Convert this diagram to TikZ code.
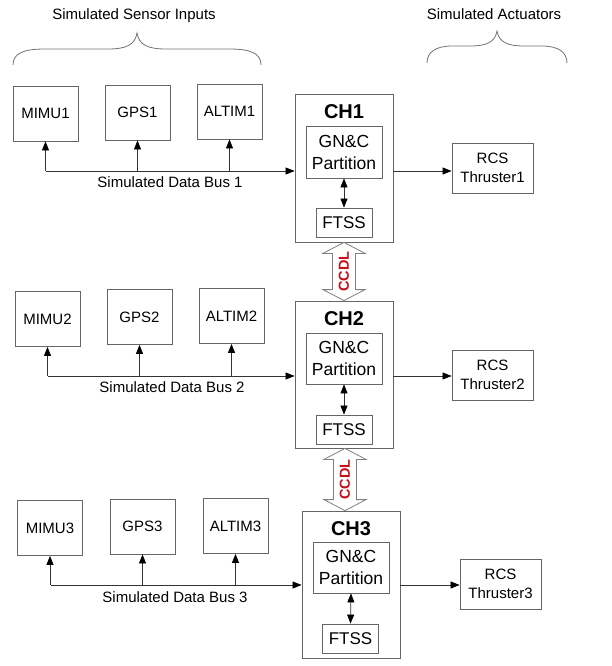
\documentclass[tikz,border=0pt]{standalone}
\usepackage{fontspec}
\setmainfont{Liberation Sans}
\usetikzlibrary{arrows.meta,calc}
\definecolor{ccdlred}{HTML}{C8101A}
\begin{document}
\begin{tikzpicture}[x=1pt,y=-1pt,
  box/.style={draw=black!60, line width=0.8pt, fill=white, align=center, inner sep=0pt,
    font=\fontsize{15}{19}\selectfont, text=black},
  sensor/.style={box, minimum width=65pt, minimum height=55pt},
  chbox/.style={box, minimum width=98pt, minimum height=147pt},
  gncbox/.style={box, minimum width=76pt, minimum height=52pt, font=\fontsize{17.5}{22}\selectfont},
  ftssbox/.style={box, minimum width=56pt, minimum height=29pt, font=\fontsize{17}{20}\selectfont},
  rcsbox/.style={box, minimum width=81pt, minimum height=50pt},
  chlabel/.style={font=\bfseries\fontsize{20}{24}\selectfont, inner sep=0pt},
  lbl/.style={font=\fontsize{15}{18}\selectfont, inner sep=0pt, text=black},
  arr/.style={draw=black!80, line width=0.7pt, -{Triangle[length=9pt,width=7pt,color=black]}},
  darr/.style={draw=black!80, line width=0.7pt, {Triangle[length=9pt,width=7pt,color=black]}-{Triangle[length=9pt,width=7pt,color=black]}},
  brace/.style={draw=black!55, line width=0.8pt},
  ccdl/.style={draw=black!50, line width=0.8pt, fill=white, line join=miter},
  ccdltext/.style={font=\bfseries\fontsize{14.5}{16}\selectfont, text=ccdlred, inner sep=0pt}
]
\useasboundingbox (0,0) rectangle (612,666);

% headers
\node[lbl] (hsens) at (134,16) {Simulated Sensor Inputs};
\node[lbl] (hact) at (494,14) {Simulated Actuators};
\draw[brace] (13,65) .. controls (13,53) and (24,49) .. (45,49) -- (108,49)
  .. controls (126,49) and (135,45) .. (137,33)
  .. controls (139,45) and (148,49) .. (166,49) -- (229,49)
  .. controls (250,49) and (261,53) .. (261,65);
\draw[brace] (427,63) .. controls (427,52) and (436,46) .. (452,46) -- (470,46)
  .. controls (487,46) and (495,42) .. (497,31)
  .. controls (499,42) and (507,46) .. (524,46) -- (542,46)
  .. controls (558,46) and (567,52) .. (567,63);

% ---------- Row 1 ----------
\node[sensor] (mimu1) at (45.5,113.5) {MIMU1};
\node[sensor] (gps1) at (137.5,112.5) {GPS1};
\node[sensor] (altim1) at (229.5,111.5) {ALTIM1};
\node[chbox, minimum height=148pt] (ch1) at (344,168) {};
\node[chlabel] (ch1l) at (344,112) {CH1};
\node[gncbox] (gnc1) at (344,152) {GN\&C\\Partition};
\node[ftssbox] (ftss1) at (344,222.5) {FTSS};
\node[rcsbox] (rcs1) at (492.5,168) {RCS\\Thruster1};
\coordinate (bus1) at (46,171);
\draw[arr] (bus1) -- (bus1 -| ch1.west);
\draw[arr] (mimu1.south |- bus1) -- (mimu1.south);
\draw[arr] (gps1.south |- bus1) -- (gps1.south);
\draw[arr] (altim1.south |- bus1) -- (altim1.south);
\draw[arr] (ch1.east |- bus1) -- (rcs1.west |- bus1);
\draw[darr] (gnc1.south) -- (ftss1.north);
\node[lbl] (bl1) at (170,182) {Simulated Data Bus 1};

% ---------- Row 2 ----------
\node[sensor] (mimu2) at (47.5,319) {MIMU2};
\node[sensor] (gps2) at (139.5,317) {GPS2};
\node[sensor] (altim2) at (231.5,316) {ALTIM2};
\node[chbox] (ch2) at (344,374.5) {};
\node[chlabel] (ch2l) at (344,319) {CH2};
\node[gncbox, minimum height=51pt] (gnc2) at (344,358.5) {GN\&C\\Partition};
\node[ftssbox] (ftss2) at (344,429.5) {FTSS};
\node[rcsbox] (rcs2) at (492.5,375) {RCS\\Thruster2};
\coordinate (bus2) at (48,376);
\draw[arr] (bus2) -- (bus2 -| ch2.west);
\draw[arr] (mimu2.south |- bus2) -- (mimu2.south);
\draw[arr] (gps2.south |- bus2) -- (gps2.south);
\draw[arr] (altim2.south |- bus2) -- (altim2.south);
\draw[arr] (ch2.east |- bus2) -- (rcs2.west |- bus2);
\draw[darr] (gnc2.south) -- (ftss2.north);
\node[lbl] (bl2) at (172,387) {Simulated Data Bus 2};

% ---------- Row 3 ----------
\node[sensor] (mimu3) at (50,528) {MIMU3};
\node[sensor] (gps3) at (142.5,526.5) {GPS3};
\node[sensor] (altim3) at (235.5,526) {ALTIM3};
\node[chbox] (ch3) at (351,584.5) {};
\node[chlabel] (ch3l) at (351,529) {CH3};
\node[gncbox, minimum height=51pt] (gnc3) at (351,567.5) {GN\&C\\Partition};
\node[ftssbox] (ftss3) at (350.5,638.5) {FTSS};
\node[rcsbox] (rcs3) at (500.5,584) {RCS\\Thruster3};
\coordinate (bus3) at (51,585);
\draw[arr] (bus3) -- (bus3 -| ch3.west);
\draw[arr] (mimu3.south |- bus3) -- (mimu3.south);
\draw[arr] (gps3.south |- bus3) -- (gps3.south);
\draw[arr] (altim3.south |- bus3) -- (altim3.south);
\draw[arr] (ch3.east |- bus3) -- (rcs3.west |- bus3);
\draw[darr] (gnc3.south) -- (ftss3.north);
\node[lbl] (bl3) at (175,597) {Simulated Data Bus 3};

% ---------- CCDL links ----------
\coordinate (c1t) at (ch1.south);
\coordinate (c1b) at (ch1.south |- ch2.north);
\draw[ccdl] (c1t) -- ++(21,11) -- ++(-9.5,0) -- ($(c1b)+(11.5,-11)$) -- ++(9.5,0)
  -- (c1b) -- ++(-21,-11) -- ++(9.5,0) -- ($(c1t)+(-11.5,11)$) -- ++(-9.5,0) -- cycle;
\node[ccdltext, rotate=90] (ccdl1) at ($(c1t)!0.5!(c1b)$) {CCDL};

\coordinate (c2t) at ($(ch2.south)+(1,0)$);
\coordinate (c2b) at (c2t |- ch3.north);
\draw[ccdl] (c2t) -- ++(21,11) -- ++(-9.5,0) -- ($(c2b)+(11.5,-11)$) -- ++(9.5,0)
  -- (c2b) -- ++(-21,-11) -- ++(9.5,0) -- ($(c2t)+(-11.5,11)$) -- ++(-9.5,0) -- cycle;
\node[ccdltext, rotate=90] (ccdl2) at ($(c2t)!0.5!(c2b)$) {CCDL};
\end{tikzpicture}
\end{document}
